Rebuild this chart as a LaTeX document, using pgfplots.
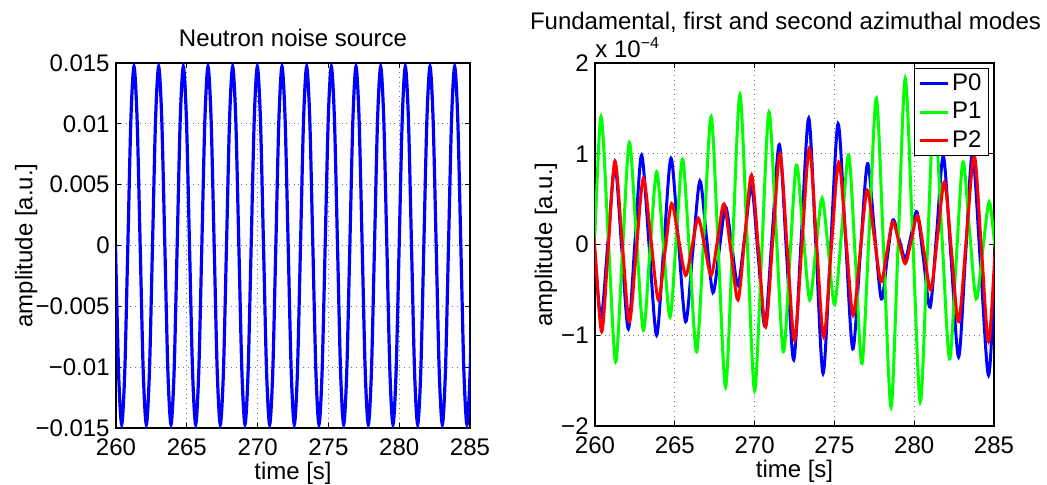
\documentclass[border=0pt]{standalone}
\usepackage{fontspec}
\setmainfont{Liberation Sans}
\usepackage{pgfplots}
\pgfplotsset{compat=1.18}
\newcommand\fs{\fontsize{12}{14.4}\selectfont}
\definecolor{mblue}{RGB}{0,0,255}
\definecolor{mgreen}{RGB}{0,255,0}
\definecolor{mred}{RGB}{255,0,0}
\pgfplotsset{mystyle/.style={
  scale only axis, anchor=south west, clip mode=individual,
  xmin=260, xmax=285, xtick={260,265,270,275,280,285},
  tick align=inside, major tick length=2.5pt,
  xtick pos=both, ytick pos=both, xticklabel pos=lower, yticklabel pos=left,
  grid=major, major grid style={dotted, black!55, line width=0.5pt},
  axis line style={line width=0.6pt},
  every tick/.style={black, line width=0.5pt},
  tick label style={font=\fs}, label style={font=\fs}, title style={font=\fs},
  /pgf/number format/assume math mode=true,
  scaled y ticks=false, scaled x ticks=false,
  xticklabel style={anchor=base, yshift=-13.5pt, inner sep=0pt},
  yticklabel style={anchor=east, inner sep=0pt, xshift=-3pt},
  xlabel={time [s]}, ylabel={amplitude [a.u.]},
  xlabel style={at={(axis description cs:0.5,0)}, anchor=base, yshift=-25.5pt},
}}
\begin{document}
\begin{tikzpicture}
\useasboundingbox (0,0) rectangle (523.5pt,242pt);
\begin{axis}[mystyle, at={(58pt,28pt)}, width=177pt, height=182.5pt,
  ymin=-0.015, ymax=0.015,
  ytick={-0.015,-0.01,-0.005,0,0.005,0.01,0.015},
  yticklabels={−0.015,−0.01,−0.005,0,0.005,0.01,0.015},
  title={Neutron noise source},
  title style={at={(axis description cs:0.5,1)}, anchor=base, yshift=2.5pt},
  ylabel style={at={(axis description cs:-0.254,0.5)}, anchor=center}]
\addplot[mblue, line width=1.6pt, smooth] table {
259.964 0
260.182 -0.0104
260.400 -0.0147
260.618 -0.0104
260.836 0
261.053 0.0104
261.271 0.0147
261.489 0.0104
261.707 0
261.924 -0.0104
262.142 -0.0147
262.360 -0.0104
262.578 0
262.795 0.0104
263.013 0.0147
263.231 0.0104
263.449 0
263.666 -0.0104
263.884 -0.0147
264.102 -0.0104
264.320 0
264.537 0.0104
264.755 0.0147
264.973 0.0104
265.191 0
265.408 -0.0104
265.626 -0.0147
265.844 -0.0104
266.062 0
266.279 0.0104
266.497 0.0147
266.715 0.0104
266.933 0
267.150 -0.0104
267.368 -0.0147
267.586 -0.0104
267.804 0
268.021 0.0104
268.239 0.0147
268.457 0.0104
268.675 0
268.892 -0.0104
269.110 -0.0147
269.328 -0.0104
269.546 0
269.763 0.0104
269.981 0.0147
270.199 0.0104
270.417 0
270.634 -0.0104
270.852 -0.0147
271.070 -0.0104
271.288 0
271.505 0.0104
271.723 0.0147
271.941 0.0104
272.159 0
272.376 -0.0104
272.594 -0.0147
272.812 -0.0104
273.030 0
273.247 0.0104
273.465 0.0147
273.683 0.0104
273.901 0
274.118 -0.0104
274.336 -0.0147
274.554 -0.0104
274.772 0
274.989 0.0104
275.207 0.0147
275.425 0.0104
275.643 0
275.860 -0.0104
276.078 -0.0147
276.296 -0.0104
276.514 0
276.731 0.0104
276.949 0.0147
277.167 0.0104
277.385 0
277.602 -0.0104
277.820 -0.0147
278.038 -0.0104
278.256 0
278.473 0.0104
278.691 0.0147
278.909 0.0104
279.127 0
279.344 -0.0104
279.562 -0.0147
279.780 -0.0104
279.998 0
280.215 0.0104
280.433 0.0147
280.651 0.0104
280.869 0
281.086 -0.0104
281.304 -0.0147
281.522 -0.0104
281.740 0
281.957 0.0104
282.175 0.0147
282.393 0.0104
282.611 0
282.828 -0.0104
283.046 -0.0147
283.264 -0.0104
283.482 0
283.699 0.0104
283.917 0.0147
284.135 0.0104
284.353 0
284.570 -0.0104
284.788 -0.0147
285.006 -0.0104
285.224 0
};
\end{axis}
\begin{axis}[mystyle, at={(297.5pt,29pt)}, width=199.5pt, height=181.5pt,
  ymin=-2, ymax=2, ytick={-2,-1,0,1,2},
  yticklabels={−2,−1,0,1,2},
  title={Fundamental, first and second azimuthal modes},
  title style={at={(axis description cs:0.5,1)}, anchor=base, yshift=11pt, xshift=-4.5pt},
  ylabel style={at={(axis description cs:-0.123,0.5)}, anchor=center},
  legend style={at={(rel axis cs:0.987,0.986)}, anchor=north east, draw=black, fill=white,
    font=\fs, inner xsep=2pt, inner ysep=0.5pt, row sep=0.5pt,
    nodes={inner xsep=1.5pt, inner ysep=2pt}},
  legend cell align=left,
  legend image code/.code={\draw[#1] (0pt,0pt) -- (14pt,0pt);}]
\addplot[mblue, line width=1.5pt, smooth] table {
259.55 0.70
259.965 -0.05
260.38 -0.80
260.815 0.035
261.25 0.87
261.67 -0.03
262.09 -0.93
262.505 0.03
262.92 0.985
263.39 -0.01
263.86 -1.00
264.31 -0.025
264.76 0.95
265.22 0.05
265.68 -0.85
266.125 -0.075
266.57 0.70
266.98 0.085
267.39 -0.53
267.785 -0.06
268.18 0.415
268.57 -0.02
268.96 -0.45
269.385 0.095
269.81 0.64
270.23 -0.13
270.65 -0.90
271.10 0.10
271.55 1.10
272.0 -0.09
272.45 -1.27
272.92 0.06
273.39 1.39
273.84 -0.015
274.29 -1.42
274.76 -0.045
275.23 1.33
275.69 0.09
276.15 -1.15
276.61 -0.13
277.07 0.89
277.505 0.145
277.94 -0.60
278.30 -0.165
278.66 0.27
279.05 0.06
279.44 -0.155
279.805 0.10
280.17 0.36
280.585 -0.165
281.0 -0.69
281.415 0.14
281.83 0.97
282.305 -0.135
282.78 -1.24
283.215 -0.12
283.65 1.0
284.155 -0.22
284.66 -1.44
285.08 -0.2
285.5 1.0
};
\addplot[mgreen, line width=1.5pt, smooth] table {
259.55 -1.30
259.97 0.05
260.38 1.41
260.835 0.06
261.29 -1.29
261.72 -0.08
262.15 1.125
262.59 0.09
263.03 -0.945
263.445 -0.07
263.86 0.80
264.28 0.0
264.70 -0.80
265.095 0.07
265.49 0.94
265.93 -0.12
266.37 -1.18
266.825 0.115
267.28 1.41
267.73 -0.08
268.18 -1.57
268.63 0.04
269.08 1.65
269.54 0.02
270.0 -1.61
270.45 -0.075
270.90 1.46
271.35 0.14
271.80 -1.18
272.21 -0.15
272.62 0.875
273.035 0.13
273.45 -0.61
273.84 -0.05
274.23 0.51
274.625 -0.075
275.02 -0.66
275.46 0.16
275.90 0.985
276.315 -0.16
276.73 -1.31
277.18 0.15
277.63 1.61
278.09 -0.09
278.55 -1.79
278.995 0.02
279.44 1.83
279.91 0.05
280.38 -1.735
280.815 -0.12
281.25 1.5
281.73 0.12
282.21 -1.26
282.63 -0.175
283.05 0.91
283.465 0.155
283.88 -0.60
284.29 -0.065
284.70 0.47
285.05 0.0
285.45 -0.5
};
\addplot[mred, line width=1.5pt, smooth] table {
259.55 0.90
259.985 -0.03
260.42 -0.96
260.835 -0.02
261.25 0.92
261.70 0.035
262.15 -0.85
262.59 -0.06
263.03 0.73
263.50 0.06
263.97 -0.61
264.385 -0.08
264.80 0.45
265.24 0.055
265.68 -0.34
266.075 -0.025
266.47 0.29
266.875 -0.025
267.28 -0.34
267.68 0.05
268.08 0.445
268.52 -0.08
268.96 -0.61
269.385 0.08
269.81 0.765
270.25 -0.07
270.69 -0.91
271.14 0.045
271.59 1.0
272.04 -0.03
272.50 -1.055
272.965 0.0
273.43 1.06
273.88 0.02
274.33 -1.02
274.80 -0.055
275.27 0.91
275.72 0.065
276.17 -0.78
276.61 -0.09
277.05 0.60
277.485 0.095
277.92 -0.41
278.29 -0.08
278.66 0.25
279.05 0.02
279.44 -0.21
279.825 0.055
280.21 0.32
280.625 -0.09
281.04 -0.50
281.47 0.095
281.90 0.69
282.34 -0.08
282.78 -0.85
283.27 0.07
283.76 0.985
284.21 -0.04
284.66 -1.07
285.08 -0.05
285.5 1.0
};
\legend{P0,P1,P2}
\node[anchor=base west, font=\fs, inner sep=0pt, yshift=3pt] at (rel axis cs:0,1) {x 10\textsuperscript{−4}};
\end{axis}
\end{tikzpicture}
\end{document}
